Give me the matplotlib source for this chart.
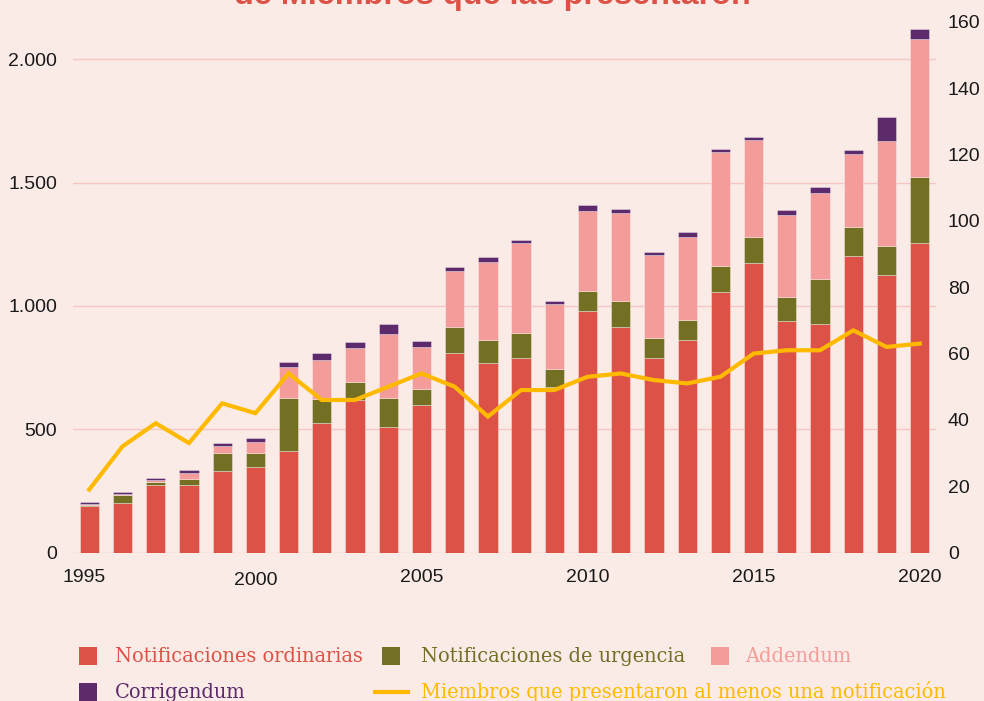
import matplotlib
matplotlib.use("Agg")
import matplotlib.pyplot as plt
import matplotlib.transforms as mtransforms
from matplotlib.patches import Rectangle
from matplotlib.lines import Line2D
import numpy as np

plt.rcParams["font.family"] = ["Liberation Sans", "DejaVu Sans"]

years = list(range(1995, 2021))
ordinarias = [190, 200, 272, 272, 329, 348, 410, 526, 618, 508, 597, 808, 767,
              788, 670, 980, 916, 788, 862, 1055, 1172, 937, 926, 1204, 1124, 1253]
urgencia = [3, 32, 15, 27, 74, 55, 218, 96, 73, 120, 66, 108, 95,
            101, 74, 81, 104, 81, 81, 107, 109, 97, 184, 116, 120, 268]
addendum = [5, 7, 7, 22, 27, 47, 124, 158, 137, 256, 172, 227, 315,
            364, 262, 322, 357, 337, 338, 461, 390, 336, 349, 297, 426, 561]
corrigendum = [7, 7, 7, 13, 13, 15, 22, 28, 27, 42, 22, 15, 22,
               15, 14, 28, 14, 14, 20, 15, 15, 20, 22, 13, 97, 42]
miembros = [19, 32, 39, 33, 45, 42, 54, 46, 46, 50, 54, 50, 41,
            49, 49, 53, 54, 52, 51, 53, 60, 61, 61, 67, 62, 63]

left_ticks = [0, 500, 1000, 1500, 2000]
left_labels = ["0", "500", "1.000", "1.500", "2.000"]
right_ticks = [0, 20, 40, 60, 80, 100, 120, 140, 160]
x_ticks = [1995, 2000, 2005, 2010, 2015, 2020]

title_line = "de Miembros que las presentaron"
legend_labels = ["Notificaciones ordinarias", "Notificaciones de urgencia", "Addendum",
                 "Corrigendum", "Miembros que presentaron al menos una notificación"]

C_RED = "#DD5247"
C_OLIVE = "#737024"
C_PINK = "#F49C9A"
C_PURPLE = "#5D2A6B"
C_YELLOW = "#FFBA00"
C_BG = "#FAEBE7"
C_GRID = "#F6C7C2"

W, H = 984, 701
fig = plt.figure(figsize=(W / 100, H / 100), dpi=100, facecolor=C_BG)

ax_l, ax_r, ax_t, ax_b = 73, 936, 22, 552.5
ax = fig.add_axes([ax_l / W, (H - ax_b) / H, (ax_r - ax_l) / W, (ax_b - ax_t) / H])
ax.set_facecolor(C_BG)

x = np.array(years)
o = np.array(ordinarias)
u = np.array(urgencia)
a = np.array(addendum)
c = np.array(corrigendum)
bw = 0.58
edge = dict(edgecolor=(1, 1, 1, 0.35), linewidth=0.7)
ax.bar(x, o, bw, color=C_RED, zorder=3, **edge)
ax.bar(x, u, bw, bottom=o, color=C_OLIVE, zorder=3, **edge)
ax.bar(x, a, bw, bottom=o + u, color=C_PINK, zorder=3, **edge)
ax.bar(x, c, bw, bottom=o + u + a, color=C_PURPLE, zorder=3, **edge)

ax.set_xlim(1994.51, 2020.49)
ax.set_ylim(0, 2151)
ax.set_yticks(left_ticks)
ax.set_yticklabels(left_labels)
ax.grid(axis="y", color=C_GRID, linewidth=1.0, zorder=0)
ax.set_axisbelow(True)
for s in ax.spines.values():
    s.set_visible(False)
ax.set_xticks(x_ticks)
ax.set_xticklabels([str(v) for v in x_ticks])
ax.tick_params(axis="both", length=0, labelsize=14, labelcolor="#1a1a1a")
ax.tick_params(axis="y", pad=11.5)
ax.tick_params(axis="x", pad=12)

ax2 = ax.twinx()
ax2.set_ylim(0, 160)
ax2.set_yticks(right_ticks)
ax2.plot(x, miembros, color=C_YELLOW, linewidth=3.0, solid_joinstyle="miter", zorder=5)
for s in ax2.spines.values():
    s.set_visible(False)
ax2.tick_params(axis="y", length=0, labelsize=14, labelcolor="#1a1a1a", pad=8.5)

# small offsets of individual year labels as in the reference
ticks = ax.xaxis.get_major_ticks()
ticks[1].set_pad(14)
off = mtransforms.ScaledTranslation(-5 / 100, 0, fig.dpi_scale_trans)
ticks[0].label1.set_transform(ticks[0].label1.get_transform() + off)

# partially visible title (cut at the top edge, as in the reference)
fig.text(492 / W, (H - 4) / H, title_line, ha="center", va="baseline",
         fontsize=23.3, fontweight="bold", color=C_RED)

# manual legend
def px(xp, yp):
    return xp / W, (H - yp) / H

leg_font = dict(family="DejaVu Serif", fontstretch="condensed")
items = [
    (79, 656, 115, C_RED, legend_labels[0], "sq"),
    (382, 656, 421, C_OLIVE, legend_labels[1], "sq"),
    (711, 656, 745, C_PINK, legend_labels[2], "sq"),
    (79, 692, 115, C_PURPLE, legend_labels[3], "sq"),
    (375, 692, 421, C_YELLOW, legend_labels[4], "line"),
]
texts = []
for hx, hy, tx, col, lab, kind in items:
    if kind == "sq":
        fx, fy = px(hx, hy + 9)
        fig.patches.append(Rectangle((fx, fy), 18 / W, 18 / H, transform=fig.transFigure,
                                     facecolor=col, edgecolor="none"))
    else:
        x0, y0 = px(hx, hy)
        x1, _ = px(hx + 33, hy)
        fig.lines.append(Line2D([x0, x1], [y0, y0], transform=fig.transFigure,
                                color=col, linewidth=3.0))
    tx_f, ty_f = px(tx, hy)
    t = fig.text(tx_f, ty_f, lab, ha="left", va="center", color=col, fontsize=14, **leg_font)
    texts.append(t)

fig.canvas.draw()
r = fig.canvas.get_renderer()
wnow = texts[0].get_window_extent(r).width
scale = 248.0 / wnow
for t in texts:
    t.set_fontsize(14 * scale)

fig.savefig("out.png", dpi=100, facecolor=C_BG)
